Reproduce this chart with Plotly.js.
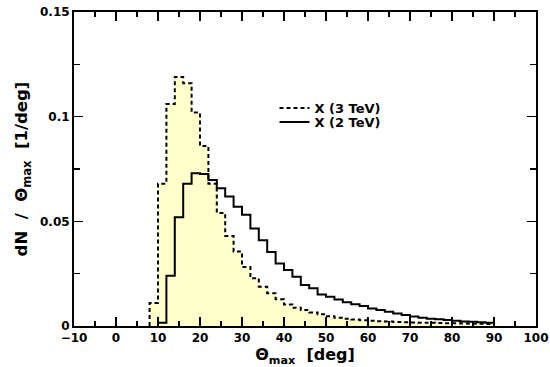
<!DOCTYPE html>
<html>
<head>
<meta charset="utf-8">
<script src="https://cdn.plot.ly/plotly-3.0.1.min.js"></script>
<style>
  html, body { margin: 0; padding: 0; background: #ffffff; }
  #chart { width: 550px; height: 367px; }
</style>
</head>
<body>
<div id="chart"></div>
<script>
// Bin edges (deg), 2-degree bins from 8 to 90
const binEdges = [8,10,12,14,16,18,20,22,24,26,28,30,32,34,36,38,40,42,44,46,48,50,
                  52,54,56,58,60,62,64,66,68,70,72,74,76,78,80,82,84,86,88,90];

// dN/dTheta_max per bin, X (3 TeV) — dashed, filled
const dN3TeV = [0.011,0.068,0.106,0.119,0.116,0.102,0.086,0.068,0.054,0.043,
                0.0356,0.0282,0.0228,0.0188,0.0157,0.0128,0.0103,0.0087,0.0076,0.0065,
                0.0056,0.0046,0.0040,0.0035,0.0031,0.0028,0.0025,0.0023,0.0021,0.0019,
                0.0018,0.0017,0.0016,0.0015,0.0014,0.0013,0.0013,0.0012,0.0011,0.0011,
                0.0010];

// dN/dTheta_max per bin, X (2 TeV) — solid
const dN2TeV = [0,0.0015,0.024,0.052,0.068,0.073,0.0726,0.0698,0.0658,0.0619,
                0.0570,0.0532,0.0466,0.0410,0.0354,0.0299,0.0267,0.0235,0.0196,0.0180,
                0.0151,0.0140,0.0127,0.0113,0.0104,0.0095,0.0084,0.0076,0.0068,0.0060,
                0.0052,0.0045,0.0040,0.0035,0.0032,0.0029,0.0025,0.0022,0.0020,0.0018,
                0.0016];

const seriesNames = ['X (3 TeV)', 'X (2 TeV)'];

function stepTrace(edges, vals) {
  // skip leading empty bins
  let s = 0;
  while (s < vals.length && vals[s] === 0) s++;
  const x = [edges[s]], y = [0];
  for (let i = s; i < vals.length; i++) { x.push(edges[i]); y.push(vals[i]); }
  x.push(edges[vals.length]); y.push(0);
  return {x, y};
}

const s3 = stepTrace(binEdges, dN3TeV);
const s2 = stepTrace(binEdges, dN2TeV);

const FONT = 'DejaVu Sans, Liberation Sans, sans-serif';
const NB = '\u00A0';

const traces = [
  { x: s3.x, y: s3.y, type: 'scatter', mode: 'lines', line: {shape: 'hv', width: 0, color: 'rgba(0,0,0,0)'},
    fill: 'tozeroy', fillcolor: '#ffffcc', showlegend: false, hoverinfo: 'skip' },
  { x: s3.x, y: s3.y, type: 'scatter', mode: 'lines', name: seriesNames[0], legend: 'legend',
    line: {shape: 'hv', width: 2, color: '#000000', dash: '4px,3px'} },
  { x: s2.x, y: s2.y, type: 'scatter', mode: 'lines', name: seriesNames[1], legend: 'legend2',
    line: {shape: 'hv', width: 2, color: '#000000'} }
];

const axisCommon = {
  showgrid: false, zeroline: false, showline: true, linecolor: '#000', linewidth: 2,
  mirror: 'ticks', ticks: 'inside', tickcolor: '#000', tickwidth: 1.5, ticklen: 9,
  tickfont: {family: FONT, size: 12, color: '#000', weight: 'bold'}
};

const legendCommon = {
  xanchor: 'left', yanchor: 'top', bgcolor: 'rgba(0,0,0,0)', borderwidth: 0,
  font: {family: FONT, size: 13, color: '#000', weight: 'bold'}, itemwidth: 30
};

const layout = {
  width: 550, height: 367,
  margin: {l: 74, r: 14, t: 12, b: 41},
  paper_bgcolor: '#fff', plot_bgcolor: '#fff',
  showlegend: true,
  legend: Object.assign({x: 0.434, y: 0.742}, legendCommon),
  legend2: Object.assign({x: 0.434, y: 0.697}, legendCommon),
  xaxis: Object.assign({}, axisCommon, {
    range: [-10, 100], dtick: 10, tick0: 0,
    minor: {dtick: 5, ticks: 'inside', ticklen: 5, tickcolor: '#000', tickwidth: 1.5},
    title: {text: 'Θ<sub>max</sub>' + NB + NB + '[deg]', standoff: 4,
            font: {family: FONT, size: 16, color: '#000', weight: 'bold'}}
  }),
  yaxis: Object.assign({}, axisCommon, {
    range: [0, 0.15], dtick: 0.05, tick0: 0,
    minor: {dtick: 0.025, ticks: 'inside', ticklen: 6, tickcolor: '#000', tickwidth: 1.5},
    title: {text: 'dN' + NB + NB + '/' + NB + NB + 'Θ<sub>max</sub>' + NB + NB + '[1/deg]', standoff: 8,
            font: {family: FONT, size: 16.5, color: '#000', weight: 'bold'}}
  })
};

Plotly.newPlot('chart', traces, layout, {staticPlot: true, displayModeBar: false});
</script>
</body>
</html>
